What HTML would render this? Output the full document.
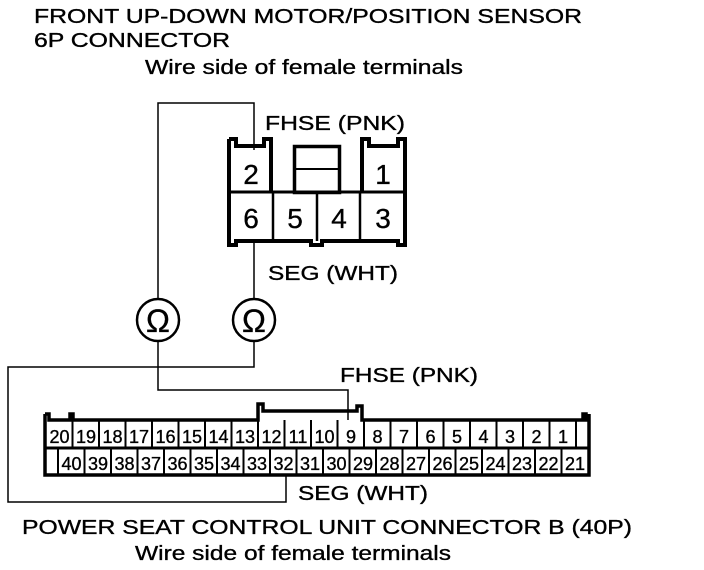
<!DOCTYPE html>
<html><head><style>
html,body{margin:0;padding:0;background:#fff;}
svg{display:block;}
text{font-family:"Liberation Sans",Arial,sans-serif;fill:#000;stroke:#000;stroke-width:0.35;}
</style></head><body>
<svg width="704" height="570" viewBox="0 0 704 570" xmlns="http://www.w3.org/2000/svg">
<!-- Titles -->
<text x="34" y="23" font-size="20" textLength="548" lengthAdjust="spacingAndGlyphs">FRONT UP-DOWN MOTOR/POSITION SENSOR</text>
<text x="34" y="47" font-size="20" textLength="196" lengthAdjust="spacingAndGlyphs">6P CONNECTOR</text>
<text x="145" y="74" font-size="20" textLength="318" lengthAdjust="spacingAndGlyphs">Wire side of female terminals</text>
<text x="265" y="130" font-size="20" textLength="140" lengthAdjust="spacingAndGlyphs">FHSE (PNK)</text>
<text x="268" y="280" font-size="20" textLength="130" lengthAdjust="spacingAndGlyphs">SEG (WHT)</text>
<text x="340" y="382" font-size="20" textLength="138" lengthAdjust="spacingAndGlyphs">FHSE (PNK)</text>
<text x="298" y="500" font-size="20" textLength="130" lengthAdjust="spacingAndGlyphs">SEG (WHT)</text>
<text x="22" y="534" font-size="20" textLength="610" lengthAdjust="spacingAndGlyphs">POWER SEAT CONTROL UNIT CONNECTOR B (40P)</text>
<text x="135" y="560" font-size="20" textLength="316" lengthAdjust="spacingAndGlyphs">Wire side of female terminals</text>

<!-- Wires -->
<g stroke="#000" stroke-width="1.5" fill="none">
<polyline points="158,298 158,103 254,103 254,150"/>
<polyline points="254,243 254,298"/>
<polyline points="158,342 158,390 348,390 348,420"/>
<polyline points="254,342 254,367 8,367 8,502 286,502 286,475"/>
</g>
<!-- Ohm meters -->
<g stroke="#000" stroke-width="2.5" fill="#fff">
<circle cx="158" cy="320" r="21"/>
<circle cx="254" cy="320" r="21"/>
</g>
<text x="158" y="332" font-size="32" text-anchor="middle">Ω</text>
<text x="254" y="332" font-size="32" text-anchor="middle">Ω</text>

<!-- 6P connector -->
<g stroke="#000" fill="none">
<path d="M229,139 V245 H236 V241 H311 V245 H322 V241 H398 V245 H405 V139 H398 V146 H369 V139 H362 V192 M229,139 H236 V146 H264 V139 H271 V192" stroke-width="4" stroke-linejoin="miter"/>
<line x1="229" y1="192" x2="405" y2="192" stroke-width="3"/>
<rect x="294.5" y="146.5" width="45" height="46" stroke-width="3.5"/>
<line x1="294" y1="169" x2="340" y2="169" stroke-width="2"/>
<line x1="273" y1="192" x2="273" y2="241" stroke-width="2.5"/>
<line x1="317" y1="192" x2="317" y2="241" stroke-width="2.5"/>
<line x1="360" y1="192" x2="360" y2="241" stroke-width="2.5"/>
</g>
<g font-size="28" text-anchor="middle">
<text x="251" y="184">2</text>
<text x="383" y="184">1</text>
<text x="251" y="228">6</text>
<text x="295" y="228">5</text>
<text x="339" y="228">4</text>
<text x="383" y="228">3</text>
</g>

<!-- 40P connector -->
<g stroke="#000" fill="none">
<path d="M45,414 V475 H589 V414 M45,414 H49 V420 H70 V414 H73 V420 H258 V404 H263 V411 H357 V406 H362 V420 H583 V414 H586 V420 H589" stroke-width="3.5"/>
<line x1="45" y1="448" x2="589" y2="448" stroke-width="3"/>
</g>
<g stroke="#000" stroke-width="2">
<line x1="576" y1="420" x2="576" y2="448"/>
<line x1="58" y1="448" x2="58" y2="475"/>
</g>
<g id="cells" font-size="18" text-anchor="middle"></g>
<g stroke="#000" stroke-width="2" id="divs"></g>
<script>
var ns="http://www.w3.org/2000/svg";
var c=document.getElementById('cells'),d=document.getElementById('divs');
for(var i=0;i<20;i++){
 var x=46+i*26.5;
 var t=document.createElementNS(ns,'text');t.setAttribute('x',x+13.5);t.setAttribute('y',443);t.textContent=20-i;c.appendChild(t);
 if(i>0){var l=document.createElementNS(ns,'line');l.setAttribute('x1',x);l.setAttribute('x2',x);l.setAttribute('y1',420);l.setAttribute('y2',448);d.appendChild(l);}
 var x2=58+i*26.5;
 var t2=document.createElementNS(ns,'text');t2.setAttribute('x',x2+13.5);t2.setAttribute('y',470);t2.textContent=40-i;c.appendChild(t2);
 if(i>0){var l2=document.createElementNS(ns,'line');l2.setAttribute('x1',x2);l2.setAttribute('x2',x2);l2.setAttribute('y1',448);l2.setAttribute('y2',475);d.appendChild(l2);}
}
</script>
</svg>
</body></html>
